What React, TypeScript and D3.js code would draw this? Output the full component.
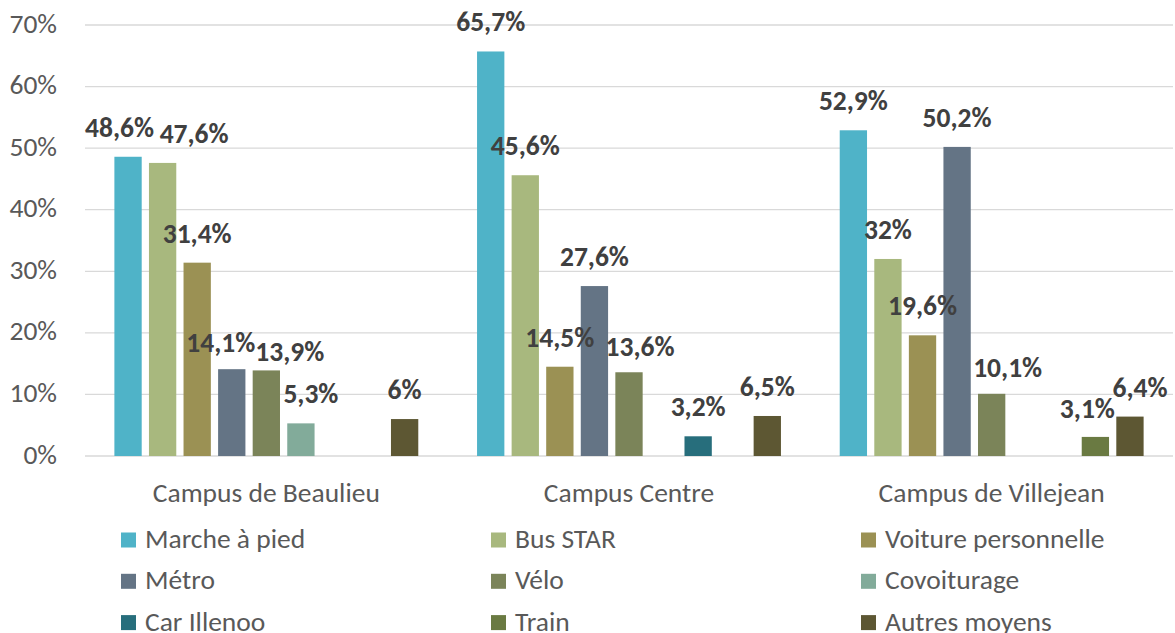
import * as d3 from 'd3';
import * as React from 'react';
import { useEffect, useRef } from 'react';

// categories (campus) and transport modes
const campuses = ['Campus de Beaulieu', 'Campus Centre', 'Campus de Villejean'];
const modes = ['Marche à pied', 'Bus STAR', 'Voiture personnelle', 'Métro', 'Vélo', 'Covoiturage', 'Car Illenoo', 'Train', 'Autres moyens'];

// values in %, one per campus (null = no bar)
const marche = [48.6, 65.7, 52.9];
const bus = [47.6, 45.6, 32];
const voiture = [31.4, 14.5, 19.6];
const metro = [14.1, 27.6, 50.2];
const velo = [13.9, 13.6, 10.1];
const covoit = [5.3, null, null];
const car = [null, 3.2, null];
const train = [null, null, 3.1];
const autres = [6, 6.5, 6.4];

const yTicks = [0, 10, 20, 30, 40, 50, 60, 70];

const colors = ['#4fb3c8', '#a8b87e', '#9b9154', '#647485', '#7b8459', '#82ab9a', '#276e7c', '#6a7a42', '#5d5733'];

// manual label nudges (as moved by hand in the original), [campus][mode] -> [dx, dy]
const labelNudge: { [k: string]: [number, number] } = {
  '0-0': [-8.5, 0], '0-1': [31.5, 0], '0-3': [-11, 3], '0-4': [23.5, 11], '0-5': [10, 0],
  '1-4': [11, 4],
  '2-4': [16, 3], '2-7': [-8, 1.5], '2-8': [10, 0]
};

const FONT = "Carlito, 'Open Sans', sans-serif";
const FS = 27.5;

const App = () => {
  const ref = useRef<SVGSVGElement | null>(null);

  useEffect(() => {
    const series = [marche, bus, voiture, metro, velo, covoit, car, train, autres];
    const width = 1175, height = 633;
    const left = 85, right = 1173, top = 25, bottom = 456;

    const svg = d3.select(ref.current);
    svg.selectAll('*').remove();

    const x0 = d3.scaleBand().domain(campuses).range([left, right]).padding(0);
    const x1 = d3.scaleBand().domain(modes).range([0, x0.bandwidth()]).paddingInner(0.21).paddingOuter(0.85);
    const y = d3.scaleLinear().domain([0, 70]).range([bottom, top]);

    // gridlines
    svg.append('g').selectAll('line').data(yTicks).enter().append('line')
      .attr('x1', left).attr('x2', right)
      .attr('y1', d => y(d)).attr('y2', d => y(d))
      .attr('stroke', '#d9d9d9').attr('stroke-width', 1.3);

    // y labels
    svg.append('g').selectAll('text').data(yTicks).enter().append('text')
      .attr('x', 57).attr('y', d => y(d) + 7.5)
      .attr('text-anchor', 'end')
      .attr('font-family', FONT).attr('font-size', FS).attr('fill', '#595959')
      .text(d => d + '%');

    // bars
    campuses.forEach((c, g) => {
      const grp = svg.append('g').attr('transform', 'translate(' + x0(c) + ',0)');
      modes.forEach((m, i) => {
        const v = series[i][g];
        if (v == null) return;
        grp.append('rect')
          .attr('x', x1(m)!).attr('width', x1.bandwidth())
          .attr('y', y(v)).attr('height', y(0) - y(v))
          .attr('fill', colors[i]);
      });
      modes.forEach((m, i) => {
        const v = series[i][g];
        if (v == null) return;
        const n = labelNudge[g + '-' + i] || [0, 0];
        grp.append('text')
          .attr('x', x1(m)! + x1.bandwidth() / 2 + n[0])
          .attr('y', y(v) - 20 + n[1])
          .attr('text-anchor', 'middle')
          .attr('font-family', FONT).attr('font-size', FS).attr('font-weight', 'bold')
          .attr('fill', '#404040')
          .text(String(v).replace('.', ',') + '%');
      });
      // category label
      svg.append('text')
        .attr('x', x0(c)! + x0.bandwidth() / 2).attr('y', 501.5)
        .attr('text-anchor', 'middle')
        .attr('font-family', FONT).attr('font-size', FS).attr('fill', '#595959')
        .text(c);
    });

    // legend: 3 columns
    const leg = svg.append('g');
    modes.forEach((m, i) => {
      const col = i % 3, row = Math.floor(i / 3);
      const lx = 121 + col * 370, ly = 540 + row * 41.3;
      leg.append('rect').attr('x', lx).attr('y', ly - 7.5).attr('width', 15).attr('height', 15).attr('fill', colors[i]);
      leg.append('text').attr('x', lx + 24).attr('y', ly + 8)
        .attr('font-family', FONT).attr('font-size', FS).attr('fill', '#595959')
        .text(m);
    });

    svg.attr('width', width).attr('height', height);
  }, []);

  return (
    <div>
      <svg ref={ref} style={{ position: 'absolute', left: 0, top: 0, background: '#fff' }} width={1175} height={633}></svg>
    </div>
  );
};

export default App;
